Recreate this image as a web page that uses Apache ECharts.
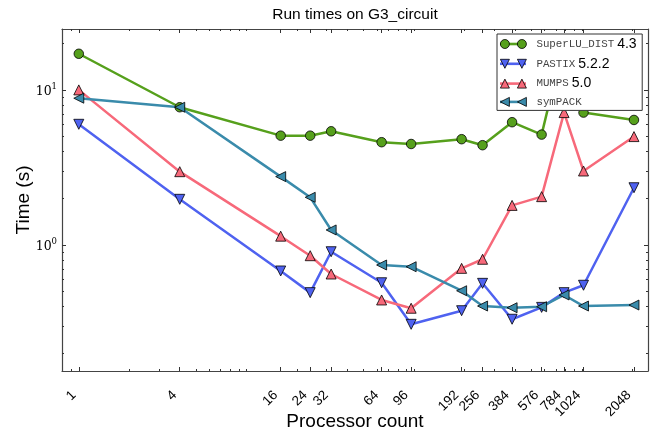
<!DOCTYPE html>
<html><head><meta charset="utf-8">
<script src="https://cdn.jsdelivr.net/npm/echarts@6/dist/echarts.min.js"></script>
<style>html,body{margin:0;padding:0;background:#fff}#c{width:650px;height:436px}</style>
</head><body><div id="c"></div>
<script>
const procs = [1, 4, 16, 24, 32, 64, 96, 192, 256, 384, 576, 784, 1024, 2048];
const tickLabels = ['1','4','16','24','32','64','96','192','256','384','576','784','1024','2048'];
const superlu = [17.1, 7.73, 5.07, 5.07, 5.41, 4.60, 4.48, 4.81, 4.40, 6.19, 5.15, 20.5, 7.14, 6.40];
const pastix  = [6.0, 1.97, 0.68, 0.493, 0.905, 0.571, 0.308, 0.377, 0.566, 0.332, 0.396, 0.493, 0.55, 2.34];
const mumps   = [10.0, 2.97, 1.14, 0.853, 0.65, 0.442, 0.391, 0.707, 0.809, 1.80, 2.05, 7.14, 3.0, 5.0];
const sympack = [8.84, 7.73, 2.76, 2.03, 1.25, 0.743, 0.724, 0.507, 0.404, 0.394, 0.40, 0.476, 0.404, 0.41];
const seriesNames = ['SuperLU_DIST', 'PASTIX', 'MUMPS', 'symPACK'];
const seriesVersions = ['4.3', '5.2.2', '5.0', ''];
const xMinorTicks = [0.9,2,3,5,6,7,8,9,10,20,30,40,50,60,70,80,90,100,200,300,400,500,600,700,800,900,1000,2000];
const yMajorTicks = [1, 10];
const yMinorTicks = [0.2,0.3,0.4,0.5,0.6,0.7,0.8,0.9,2,3,4,5,6,7,8,9,20];

const X_MIN = 0.794, X_MAX = 2483, Y_MIN = 0.154, Y_MAX = 24.7;
const colors = ['#56a01c', '#4f62f0', '#f7697a', '#3a8bab'];
const symbols = [
  'circle',
  'path://M0,0 L10,0 L5,10 Z',
  'path://M5,0 L10,10 L0,10 Z',
  'path://M0,5 L10,0 L10,10 Z'
];
const symSizes = [9.5, 10, 10, 10];
const legendIcons = [
  'path://M0,4.5 A4.5,4.5 0 1 1 9,4.5 A4.5,4.5 0 1 1 0,4.5 Z M17,4.5 A4.5,4.5 0 1 1 26,4.5 A4.5,4.5 0 1 1 17,4.5 Z',
  'path://M0,0 L9,0 L4.5,9 Z M17,0 L26,0 L21.5,9 Z',
  'path://M4.5,0 L9,9 L0,9 Z M21.5,0 L26,9 L17,9 Z',
  'path://M0,4.5 L9,0 L9,9 Z M17,4.5 L26,0 L26,9 Z'
];
const barIcon = 'path://M0,4 L26,4 L26,6.6 L0,6.6 Z';
const allValues = [superlu, pastix, mumps, sympack];

function xAx(pos, vals, len, showLine, labels) {
  return {
    type: 'log', logBase: 10, min: X_MIN, max: X_MAX, position: pos, gridIndex: 0,
    axisLine: { show: showLine, onZero: false, lineStyle: { color: '#444', width: 1.2 } },
    axisTick: { show: true, inside: true, length: len, customValues: vals, lineStyle: { color: '#333', width: 1 } },
    axisLabel: labels ? {
      show: true, customValues: procs, rotate: 45, margin: 27, align: 'right', verticalAlign: 'bottom',
      hideOverlap: false, interval: 0,
      fontFamily: 'Liberation Sans', fontSize: 13.5, color: '#000',
      formatter: v => tickLabels[procs.indexOf(v)] !== undefined ? tickLabels[procs.indexOf(v)] : String(v)
    } : { show: false },
    splitLine: { show: false }, minorTick: { show: false }, minorSplitLine: { show: false },
    name: labels ? 'Processor count' : '', nameLocation: 'middle', nameGap: 41, nameMoveOverlap: false,
    nameTextStyle: { fontFamily: 'Liberation Sans', fontSize: 19, color: '#000' }
  };
}
function yAx(pos, vals, len, showLine, labels) {
  return {
    type: 'log', logBase: 10, min: Y_MIN, max: Y_MAX, position: pos, gridIndex: 0,
    axisLine: { show: showLine, onZero: false, lineStyle: { color: '#444', width: 1.2 } },
    axisTick: { show: true, inside: true, length: len, customValues: vals, lineStyle: { color: '#333', width: 1 } },
    axisLabel: labels ? {
      show: true, customValues: yMajorTicks, margin: 5, hideOverlap: false,
      formatter: v => '{b|10}{s|' + Math.round(Math.log10(v)) + '}',
      rich: {
        b: { fontFamily: 'DejaVu Serif', fontSize: 12.5, color: '#000', lineHeight: 16, verticalAlign: 'bottom' },
        s: { fontFamily: 'DejaVu Serif', fontSize: 8.5, color: '#000', verticalAlign: 'top', lineHeight: 16 }
      }
    } : { show: false },
    splitLine: { show: false }, minorTick: { show: false }, minorSplitLine: { show: false },
    name: labels ? 'Time (s)' : '', nameLocation: 'middle', nameGap: 29, nameRotate: 90, nameMoveOverlap: false,
    nameTextStyle: { fontFamily: 'Liberation Sans', fontSize: 19, color: '#000' }
  };
}

const legendFormatter = name => {
  const i = seriesNames.indexOf(name);
  return '{m|' + name + '}' + (seriesVersions[i] ? '{v|' + seriesVersions[i] + '}' : '');
};
function legendBase(icons, rich, extra) {
  return Object.assign({
    orient: 'vertical', left: 497, top: 34, padding: [3, 6, 3, 3],
    itemWidth: 26, itemHeight: 10, itemGap: 5.8, selectedMode: false,
    data: seriesNames.map((n, i) => ({ name: n, icon: icons[i] })),
    formatter: legendFormatter,
    textStyle: { rich: rich }
  }, extra);
}
const richVisible = {
  m: { fontFamily: 'Liberation Mono', fontSize: 10.8, color: '#444', lineHeight: 14, padding: [0, 0, 0, 5] },
  v: { fontFamily: 'Liberation Sans', fontSize: 14, color: '#000', lineHeight: 14, padding: [0, 0, 0, 3] }
};
const richHidden = {
  m: Object.assign({}, richVisible.m, { color: 'rgba(0,0,0,0)' }),
  v: Object.assign({}, richVisible.v, { color: 'rgba(0,0,0,0)' })
};

const chart = echarts.init(document.getElementById('c'), null, { renderer: 'canvas' });
chart.setOption({
  animation: false,
  backgroundColor: '#fff',
  textStyle: { fontFamily: 'Liberation Sans' },
  title: {
    text: 'Run times on G3_circuit', left: 355, textAlign: 'center', top: 7, padding: 0,
    textStyle: { fontFamily: 'Liberation Sans', fontSize: 15.5, fontWeight: 'normal', color: '#000' }
  },
  grid: { left: 62, top: 29, width: 586, height: 342, containLabel: false, outerBoundsMode: 'none' },
  xAxis: [
    xAx('bottom', procs, 4, true, true),
    xAx('bottom', xMinorTicks, 2, false, false),
    xAx('top', procs, 4, true, false),
    xAx('top', xMinorTicks, 2, false, false)
  ],
  yAxis: [
    yAx('left', yMajorTicks, 4, true, true),
    yAx('left', yMinorTicks, 2, false, false),
    yAx('right', yMajorTicks, 4, true, false),
    yAx('right', yMinorTicks, 2, false, false)
  ],
  legend: [
    legendBase(Array(4).fill(barIcon), richHidden, {
      backgroundColor: '#fff', borderColor: '#333', borderWidth: 1, borderRadius: 0, z: 4,
      itemStyle: { borderWidth: 0 }
    }),
    legendBase(legendIcons, richVisible, {
      z: 5, itemStyle: { borderColor: '#000', borderWidth: 0.8 }
    })
  ],
  series: seriesNames.map((n, i) => ({
    name: n, type: 'line', xAxisIndex: 0, yAxisIndex: 0,
    data: procs.map((p, j) => [p, allValues[i][j]]),
    color: colors[i],
    symbol: symbols[i], symbolSize: symSizes[i], showSymbol: true, symbolKeepAspect: true,
    lineStyle: { width: 2.5, color: colors[i] },
    itemStyle: { color: colors[i], borderColor: '#000', borderWidth: 0.8 },
    emphasis: { disabled: true }
  }))
});
</script>
</body></html>
